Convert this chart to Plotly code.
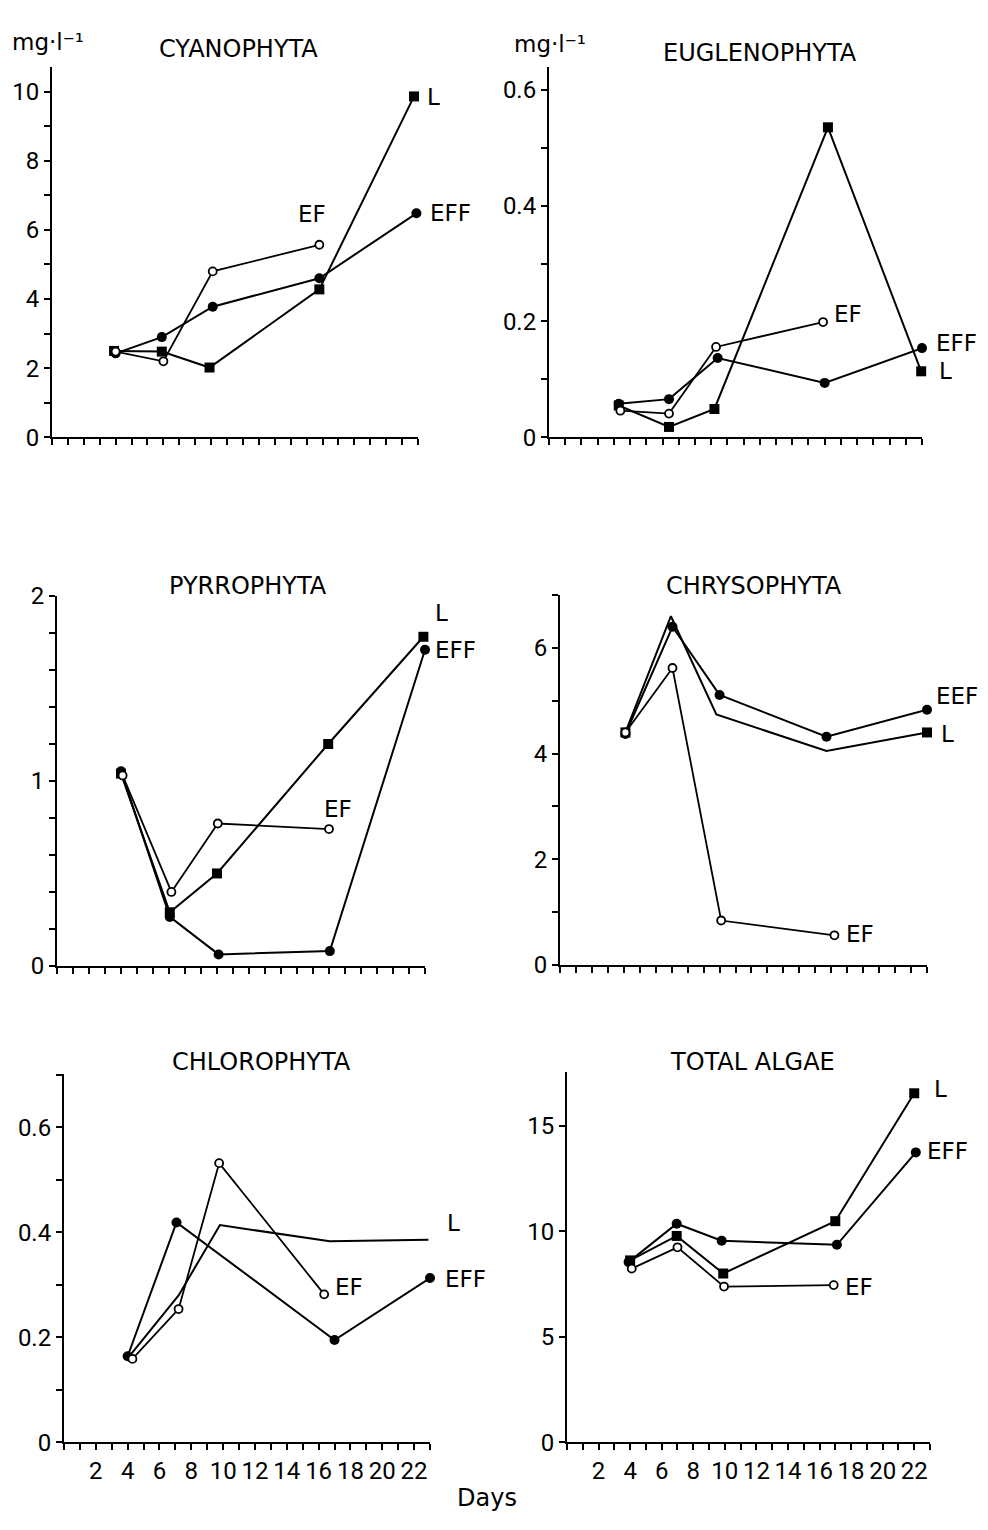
import plotly.graph_objects as go

W, H = 988, 1530
FONT = "DejaVu Sans"
TFONT = "Roboto"

# ---------------- data (days, mg/l) ----------------
cy_eff_x = [4.0, 6.9, 10.1, 16.8, 22.9]
cy_eff_y = [2.43, 2.9, 3.78, 4.6, 6.48]
cy_l_x = [3.9, 6.9, 9.9, 16.8, 22.75]
cy_l_y = [2.5, 2.48, 2.02, 4.28, 9.86]
cy_ef_x = [4.0, 7.0, 10.1, 16.8]
cy_ef_y = [2.48, 2.2, 4.8, 5.57]

eu_eff_x = [4.3, 7.4, 10.4, 17.0, 23.0]
eu_eff_y = [0.058, 0.066, 0.137, 0.094, 0.154]
eu_l_x = [4.3, 7.4, 10.2, 17.2, 22.95]
eu_l_y = [0.055, 0.018, 0.049, 0.535, 0.114]
eu_ef_x = [4.4, 7.4, 10.3, 16.9]
eu_ef_y = [0.046, 0.041, 0.156, 0.199]

py_eff_x = [4.0, 7.05, 10.1, 17.05, 23.0]
py_eff_y = [1.053, 0.265, 0.062, 0.08, 1.71]
py_l_x = [4.0, 7.05, 10.0, 16.95, 22.9]
py_l_y = [1.04, 0.29, 0.5, 1.2, 1.78]
py_ef_x = [4.1, 7.15, 10.05, 17.0]
py_ef_y = [1.03, 0.4, 0.77, 0.74]

ch_eef_x = [4.1, 7.05, 10.0, 16.7, 23.0]
ch_eef_y = [4.37, 6.4, 5.11, 4.32, 4.83]
ch_l_x = [4.1, 6.95, 9.8, 16.7, 23.0]
ch_l_y = [4.4, 6.6, 4.74, 4.05, 4.4]
ch_ef_x = [4.1, 7.05, 10.1, 17.2]
ch_ef_y = [4.4, 5.62, 0.84, 0.56]

cl_eff_x = [4.0, 7.07, 17.0, 23.0]
cl_eff_y = [0.164, 0.419, 0.195, 0.313]
cl_l_x = [4.1, 7.2, 9.8, 16.7, 22.9]
cl_l_y = [0.164, 0.28, 0.414, 0.383, 0.386]
cl_ef_x = [4.3, 7.2, 9.75, 16.35]
cl_ef_y = [0.159, 0.254, 0.532, 0.282]

ta_eff_x = [3.9, 6.95, 9.8, 17.1, 22.1]
ta_eff_y = [8.54, 10.36, 9.55, 9.36, 13.74]
ta_l_x = [4.0, 6.95, 9.9, 17.0, 22.0]
ta_l_y = [8.62, 9.78, 8.0, 10.48, 16.54]
ta_ef_x = [4.1, 7.0, 9.95, 16.9]
ta_ef_y = [8.23, 9.24, 7.38, 7.45]

titles = ["CYANOPHYTA", "EUGLENOPHYTA", "PYRROPHYTA",
          "CHRYSOPHYTA", "CHLOROPHYTA", "TOTAL ALGAE"]
x_ticks = [2, 4, 6, 8, 10, 12, 14, 16, 18, 20, 22]
unit_label = "mg·l⁻¹"

# ---------------- layout geometry (pixels) ----------------
def px_x(a, b):
    return [a / W, b / W]

def px_y(bottom, top):
    return [1 - bottom / H, 1 - top / H]

panels = [
    dict(xd=(52, 418), yd=(432, 55), yr=10.71, yt=[0, 2, 4, 6, 8, 10],
         ytt=["0", "2", "4", "6", "8", "10"], minor=1, xl=False),
    dict(xd=(549, 922), yd=(432, 55), yr=0.639, yt=[0, 0.2, 0.4, 0.6],
         ytt=["0", "0.2", "0.4", "0.6"], minor=0.1, xl=False),
    dict(xd=(57, 425), yd=(970, 593), yr=2.003, yt=[0, 1, 2],
         ytt=["0", "1", "2"], minor=0.2, xl=False),
    dict(xd=(560, 927), yd=(969, 592), yr=7.01, yt=[0, 2, 4, 6],
         ytt=["0", "2", "4", "6"], minor=1, xl=False),
    dict(xd=(64, 430), yd=(1455, 1080), yr=0.702, yt=[0, 0.2, 0.4, 0.6],
         ytt=["0", "0.2", "0.4", "0.6"], minor=0.1, xl=True),
    dict(xd=(567, 930), yd=(1455, 1078), yr=17.55, yt=[0, 5, 10, 15],
         ytt=["0", "5", "10", "15"], minor=None, xl=True),
]

series = [
    (cy_l_x, cy_l_y, cy_eff_x, cy_eff_y, cy_ef_x, cy_ef_y),
    (eu_l_x, eu_l_y, eu_eff_x, eu_eff_y, eu_ef_x, eu_ef_y),
    (py_l_x, py_l_y, py_eff_x, py_eff_y, py_ef_x, py_ef_y),
    (ch_l_x, ch_l_y, ch_eef_x, ch_eef_y, ch_ef_x, ch_ef_y),
    (cl_l_x, cl_l_y, cl_eff_x, cl_eff_y, cl_ef_x, cl_ef_y),
    (ta_l_x, ta_l_y, ta_eff_x, ta_eff_y, ta_ef_x, ta_ef_y),
]

# which L points carry a square symbol
l_marked = [
    [1, 1, 1, 1, 1],
    [1, 1, 1, 1, 1],
    [1, 1, 1, 1, 1],
    [1, 0, 0, 0, 1],
    [0, 0, 0, 0, 0],
    [1, 1, 1, 1, 1],
]

fig = go.Figure()
layout = {}
for i, (p, s) in enumerate(zip(panels, series)):
    n = "" if i == 0 else str(i + 1)
    xa, ya = "x" + n, "y" + n
    lx, ly, ex, ey, fx, fy = s
    # L line
    fig.add_trace(go.Scatter(
        x=lx, y=ly, xaxis=xa, yaxis=ya, mode="lines",
        line=dict(color="#000000", width=2), cliponaxis=False,
        showlegend=False, hoverinfo="skip"))
    mx = [x for x, m in zip(lx, l_marked[i]) if m]
    my = [y for y, m in zip(ly, l_marked[i]) if m]
    if mx:
        fig.add_trace(go.Scatter(
            x=mx, y=my, xaxis=xa, yaxis=ya, mode="markers",
            marker=dict(symbol="square", size=10, color="#000000",
                        opacity=1, line=dict(width=0)),
            cliponaxis=False, showlegend=False, hoverinfo="skip"))
    # EFF
    fig.add_trace(go.Scatter(
        x=ex, y=ey, xaxis=xa, yaxis=ya, mode="lines+markers",
        line=dict(color="#000000", width=2),
        marker=dict(symbol="circle", size=10, color="#000000", opacity=1,
                    line=dict(width=0)),
        cliponaxis=False, showlegend=False, hoverinfo="skip"))
    # EF
    fig.add_trace(go.Scatter(
        x=fx, y=fy, xaxis=xa, yaxis=ya, mode="lines+markers",
        line=dict(color="#000000", width=1.8),
        marker=dict(symbol="circle", size=8, color="white", opacity=1,
                    line=dict(color="#000000", width=1.8)),
        cliponaxis=False, showlegend=False, hoverinfo="skip"))

    xminor = dict(ticks="outside", tickmode="linear", tick0=0, dtick=1,
                  ticklen=6, tickwidth=2, tickcolor="black")
    xa_cfg = dict(
        domain=px_x(*p["xd"]), range=[0, 23], anchor=ya,
        showline=True, linecolor="black", linewidth=2, showgrid=False,
        zeroline=False, ticks="outside", ticklen=6, tickwidth=2,
        tickcolor="black", minor=xminor,
        tickfont=dict(family=TFONT, size=24, color="black"))
    if p["xl"]:
        xa_cfg.update(tickmode="array", tickvals=x_ticks,
                      ticktext=[str(v) for v in x_ticks])
    else:
        xa_cfg.update(tickmode="array", tickvals=[], ticktext=[])
    layout["xaxis" + n] = xa_cfg
    ymd = dict(ticks="outside", tickmode="linear", tick0=0,
               dtick=p["minor"], ticklen=6, tickwidth=2,
               tickcolor="black") if p["minor"] else dict(ticks="")
    layout["yaxis" + n] = dict(
        domain=px_y(*p["yd"]), range=[0, p["yr"]], anchor=xa,
        showline=True, linecolor="black", linewidth=2, showgrid=False,
        zeroline=False, ticks="outside", ticklen=6, tickwidth=2,
        tickcolor="black", tickmode="array", tickvals=p["yt"],
        ticktext=p["ytt"], tickfont=dict(family=TFONT, size=24, color="black"),
        minor=ymd)

def ann(text, x, y, anchor="left", size=23, family=FONT):
    return dict(text=text, x=x / W, y=1 - y / H, xref="paper", yref="paper",
                xanchor=anchor, yanchor="middle", showarrow=False,
                font=dict(family=family, size=size, color="black"))

annotations = [
    ann(titles[0], 238, 37, "center", 24),
    ann(titles[1], 760, 41, "center", 24),
    ann(titles[2], 248, 583, "center", 24),
    ann(titles[3], 754, 583, "center", 24),
    ann(titles[4], 261, 1068, "center", 24),
    ann(titles[5], 752, 1068, "center", 24),
    ann(unit_label, 10, 30, "left", 23),
    ann(unit_label, 512, 32, "left", 23),
    ann("Days", 487, 1512, "center", 24),
    # series labels
    ann("L", 425, 85), ann("EFF", 428, 204), ann("EF", 312, 205, "center"),
    ann("EF", 832, 306), ann("EFF", 934, 336), ann("L", 937, 364),
    ann("L", 433, 611), ann("EFF", 433, 648), ann("EF", 322, 810),
    ann("EEF", 934, 695), ann("L", 939, 734), ann("EF", 844, 938),
    ann("L", 445, 1232), ann("EF", 333, 1297), ann("EFF", 443, 1289),
    ann("L", 932, 1095), ann("EFF", 925, 1158), ann("EF", 843, 1297),
]

fig.update_layout(
    width=W, height=H, margin=dict(l=0, r=0, t=0, b=0),
    paper_bgcolor="white", plot_bgcolor="white",
    annotations=annotations, **layout)

fig.write_html("out.html")
